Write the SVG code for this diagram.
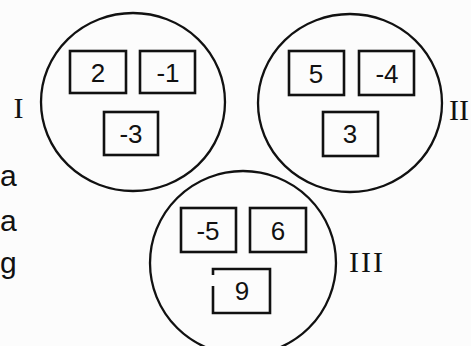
<svg xmlns="http://www.w3.org/2000/svg" width="471" height="346" viewBox="0 0 471 346">
<style>
.circ{fill:none;stroke:#111;stroke-width:2.3}
.box{fill:none;stroke:#111;stroke-width:2.6}
.num{font-family:"Liberation Sans",Arial,sans-serif;font-size:26px;fill:#111;text-anchor:middle}
.rom{font-family:"Liberation Serif","Times New Roman",serif;font-size:30px;fill:#111;letter-spacing:2px}
.side{font-family:"Liberation Sans",Arial,sans-serif;font-size:30px;fill:#111}
</style>
<rect width="471" height="346" fill="#fcfcfc"/>
<g id="side-text">
<text class="side" x="0" y="186">a</text>
<text class="side" x="0" y="231">a</text>
<text class="side" x="0" y="273">g</text>
</g>
<g id="connectors"></g>
<g id="set-I">
<ellipse class="circ" cx="133" cy="102" rx="92" ry="89"/>
<rect class="box" x="70" y="51" width="56" height="42"/>
<text class="num" x="98" y="82">2</text>
<rect class="box" x="140" y="51" width="55" height="42"/>
<text class="num" x="168" y="82">-1</text>
<rect class="box" x="104" y="112" width="54" height="43"/>
<text class="num" x="131" y="143">-3</text>
<text class="rom" x="13.5" y="118">I</text>
</g>
<g id="set-II">
<ellipse class="circ" cx="350" cy="103" rx="92" ry="89"/>
<rect class="box" x="289" y="51" width="55" height="44"/>
<text class="num" x="316" y="83">5</text>
<rect class="box" x="359" y="51" width="55" height="44"/>
<text class="num" x="387" y="83">-4</text>
<rect class="box" x="323" y="112" width="55" height="44"/>
<text class="num" x="350" y="143">3</text>
<text class="rom" x="449" y="120" style="letter-spacing:0">II</text>
</g>
<g id="set-III">
<ellipse class="circ" cx="243" cy="263" rx="93" ry="92"/>
<rect class="box" x="181" y="208" width="55" height="44"/>
<text class="num" x="208" y="240">-5</text>
<rect class="box" x="250" y="208" width="56" height="44"/>
<text class="num" x="278" y="240">6</text>
<path class="box" d="M216 269 H270 V313 H213 V286 M213 275 V269 H216"/>
<text class="num" x="242" y="300">9</text>
<text class="rom" x="349" y="272">III</text>
</g>
</svg>
